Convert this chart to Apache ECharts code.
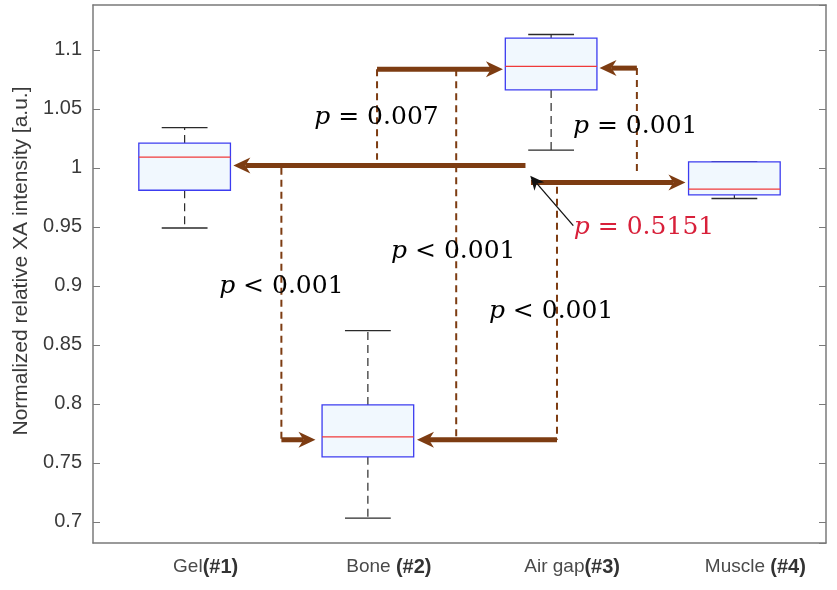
<!DOCTYPE html>
<html>
<head>
<meta charset="utf-8">
<script src="https://cdn.jsdelivr.net/npm/echarts@6/dist/echarts.min.js"></script>
<style>
  html, body { margin: 0; padding: 0; background: #fff; }
  #chart { width: 837px; height: 590px; }
</style>
</head>
<body>
<div id="chart"></div>
<script>
// ---- data ----
const categories = ['Gel(#1)', 'Bone (#2)', 'Air gap(#3)', 'Muscle (#4)'];
const whiskerLow  = [0.949, 0.703, 1.015, 0.974];
const quartile1   = [0.981, 0.755, 1.066, 0.977];
const medians     = [1.009, 0.772, 1.086, 0.982];
const quartile3   = [1.021, 0.799, 1.110, 1.005];
const whiskerHigh = [1.034, 0.862, 1.113, 1.005];

const yMin = 0.682;
const yMax = 1.138;

// comparison arrows: [xStart, yStart, xTip, yTip] in category units (1..4)
const arrowStartX = [2.86, 1.528, 2.05, 3.032, 2.89, 3.468];
const arrowStartY = [1.002, 0.7695, 1.0836, 0.7695, 0.9876, 1.0845];
const arrowTipX   = [1.266, 1.714, 2.737, 2.268, 3.733, 3.264];
const arrowTipY   = [1.002, 0.7695, 1.0836, 0.7695, 0.9876, 1.0845];

// dashed connectors: x, yTop, yBottom
const dashX    = [1.528, 2.05, 2.482, 3.032, 3.468];
const dashTop  = [1.000, 1.0836, 1.0836, 0.984, 1.0845];
const dashBot  = [0.7695, 1.0068, 0.7695, 0.7695, 0.994];

// pointer arrow to the red p-value
const pointerFrom = [3.121, 0.951];
const pointerTo   = [2.886, 0.9932];

// p-value labels
const pTexts  = ['p = 0.007', 'p = 0.001', 'p = 0.5151', 'p < 0.001', 'p < 0.001', 'p < 0.001'];
const pX      = [2.047, 3.459, 3.507, 1.528, 2.466, 3.0];
const pY      = [1.0424, 1.0347, 0.949, 0.8992, 0.9288, 0.878];
const pColors = ['#000000', '#000000', '#d8203a', '#000000', '#000000', '#000000'];

// ---- build ----
const boxData = categories.map((c, i) => [i, whiskerLow[i], quartile1[i], medians[i], quartile3[i], whiskerHigh[i]]);
const arrowData = arrowStartX.map((x, i) => [x, arrowStartY[i], arrowTipX[i], arrowTipY[i]]);
const dashData = dashX.map((x, i) => [x, dashTop[i], x, dashBot[i]]);
const labelData = pTexts.map((t, i) => ({
  value: [pX[i], pY[i]], name: t,
  label: {
    color: pColors[i],
    rich: {
      i: { fontFamily: 'DejaVu Serif', fontStyle: 'italic', fontSize: 25, color: pColors[i] },
      t: { fontFamily: 'DejaVu Serif', fontSize: 25, color: pColors[i] }
    }
  }
}));

const BROWN = '#7d3c12';
const AXIS = '#7a7a7a';

function renderBox(params, api) {
  const x = api.value(0);
  const lo = api.coord([x, api.value(1)]);
  const q1 = api.coord([x, api.value(2)]);
  const md = api.coord([x, api.value(3)]);
  const q3 = api.coord([x, api.value(4)]);
  const hi = api.coord([x, api.value(5)]);
  const band = api.size([1, 0])[0];
  const hw = band * 0.25;
  const cw = band * 0.125;
  const cx = lo[0];
  const wStyle = { stroke: '#2a2a2a', lineWidth: 1.2, lineDash: [8, 5] };
  const cStyle = { stroke: '#2a2a2a', lineWidth: 1.3 };
  return {
    type: 'group',
    children: [
      { type: 'line', shape: { x1: cx, y1: q3[1], x2: cx, y2: hi[1] }, style: wStyle },
      { type: 'line', shape: { x1: cx, y1: q1[1], x2: cx, y2: lo[1] }, style: wStyle },
      { type: 'line', shape: { x1: cx - cw, y1: hi[1], x2: cx + cw, y2: hi[1] }, style: cStyle },
      { type: 'line', shape: { x1: cx - cw, y1: lo[1], x2: cx + cw, y2: lo[1] }, style: cStyle },
      { type: 'rect', shape: { x: cx - hw, y: q3[1], width: 2 * hw, height: q1[1] - q3[1] },
        style: { fill: '#f1f8fe', stroke: '#3c3cf0', lineWidth: 1.3 } },
      { type: 'line', shape: { x1: cx - hw, y1: md[1], x2: cx + hw, y2: md[1] },
        style: { stroke: '#f03a3a', lineWidth: 1.3 } }
    ]
  };
}

function arrowShape(p1, p2, lineWidth, headLen, headHalf, notch, color) {
  const dx = p2[0] - p1[0], dy = p2[1] - p1[1];
  const len = Math.sqrt(dx * dx + dy * dy) || 1;
  const ux = dx / len, uy = dy / len;
  const nx = -uy, ny = ux;
  const bx = p2[0] - ux * headLen, by = p2[1] - uy * headLen;
  const kx = p2[0] - ux * (headLen - notch), ky = p2[1] - uy * (headLen - notch);
  return [
    { type: 'line', shape: { x1: p1[0], y1: p1[1], x2: kx, y2: ky },
      style: { stroke: color, lineWidth: lineWidth } },
    { type: 'polygon', shape: { points: [
        [p2[0], p2[1]],
        [bx + nx * headHalf, by + ny * headHalf],
        [kx, ky],
        [bx - nx * headHalf, by - ny * headHalf]
      ] }, style: { fill: color } }
  ];
}

function renderArrow(params, api) {
  const p1 = api.coord([api.value(0), api.value(1)]);
  const p2 = api.coord([api.value(2), api.value(3)]);
  return { type: 'group', children: arrowShape(p1, p2, 5, 17, 8, 5, BROWN) };
}

function renderDash(params, api) {
  const p1 = api.coord([api.value(0), api.value(1)]);
  const p2 = api.coord([api.value(2), api.value(3)]);
  return { type: 'line', shape: { x1: p1[0], y1: p1[1], x2: p2[0], y2: p2[1] },
    style: { stroke: BROWN, lineWidth: 2, lineDash: [7, 5] } };
}

function renderPointer(params, api) {
  const p1 = api.coord([api.value(0), api.value(1)]);
  const p2 = api.coord([api.value(2), api.value(3)]);
  return { type: 'group', children: arrowShape(p1, p2, 1.3, 14, 6.5, 4, '#111') };
}

const fmtNum = v => String(+v.toFixed(3));

const chart = echarts.init(document.getElementById('chart'), null, { renderer: 'canvas' });
chart.setOption({
  animation: false,
  backgroundColor: '#ffffff',
  grid: { left: 93, right: 11, top: 5, bottom: 47, show: false },
  xAxis: [
    {
      type: 'category', data: categories, position: 'bottom',
      axisLine: { lineStyle: { color: AXIS, width: 1.5 } },
      axisTick: { inside: true, alignWithLabel: true, length: 7, lineStyle: { color: AXIS } },
      axisLabel: {
        margin: 14, padding: [0, 0, 0, 42],
        formatter: v => { const m = v.match(/^(.*?)(\(#\d\))$/); return '{n|' + m[1] + '}{b|' + m[2] + '}'; },
        rich: {
          n: { fontFamily: 'Liberation Sans', fontSize: 19, color: '#4a4a4a' },
          b: { fontFamily: 'Liberation Sans', fontSize: 20, color: '#333', fontWeight: 'bold' }
        }
      },
      splitLine: { show: false }
    },
    {
      type: 'category', data: categories, position: 'top',
      axisLine: { lineStyle: { color: AXIS, width: 1.5 } },
      axisTick: { inside: true, alignWithLabel: true, length: 7, lineStyle: { color: AXIS } },
      axisLabel: { show: false },
      splitLine: { show: false }
    },
    { type: 'value', min: 0.5, max: 4.5, show: false }
  ],
  yAxis: [
    {
      type: 'value', min: yMin, max: yMax, splitNumber: 9, position: 'left',
      name: 'Normalized relative XA intensity [a.u.]',
      nameLocation: 'middle', nameGap: 56,
      nameTextStyle: { fontFamily: 'Liberation Sans', fontSize: 21, color: '#3a3a3a', padding: [0, 0, 0, 26] },
      axisLine: { show: true, lineStyle: { color: AXIS, width: 1.5 } },
      axisTick: { show: true, inside: true, length: 7, lineStyle: { color: AXIS } },
      axisLabel: {
        showMinLabel: false, showMaxLabel: false, margin: 11,
        fontFamily: 'Liberation Sans', fontSize: 20, color: '#3a3a3a',
        formatter: v => (Math.abs(v - yMin) < 1e-6 || Math.abs(v - yMax) < 1e-6) ? '' : fmtNum(v)
      },
      splitLine: { show: false }
    },
    {
      type: 'value', min: yMin, max: yMax, splitNumber: 9, position: 'right',
      axisLine: { show: true, lineStyle: { color: AXIS, width: 1.5 } },
      axisTick: { show: true, inside: true, length: 7, lineStyle: { color: AXIS } },
      axisLabel: { show: false },
      splitLine: { show: false }
    }
  ],
  series: [
    {
      type: 'custom', xAxisIndex: 2, yAxisIndex: 0, silent: true, z: 2,
      renderItem: renderDash, data: dashData, encode: { x: [0, 2], y: [1, 3] }
    },
    {
      type: 'custom', xAxisIndex: 0, yAxisIndex: 0, silent: true, z: 3,
      renderItem: renderBox, data: boxData, encode: { x: 0, y: [1, 2, 3, 4, 5] }
    },
    {
      type: 'custom', xAxisIndex: 2, yAxisIndex: 0, silent: true, z: 4,
      renderItem: renderArrow, data: arrowData, encode: { x: [0, 2], y: [1, 3] }
    },
    {
      type: 'custom', xAxisIndex: 2, yAxisIndex: 0, silent: true, z: 4,
      renderItem: renderPointer, data: [[pointerFrom[0], pointerFrom[1], pointerTo[0], pointerTo[1]]],
      encode: { x: [0, 2], y: [1, 3] }
    },
    {
      type: 'scatter', xAxisIndex: 2, yAxisIndex: 0, silent: true, z: 5,
      symbolSize: 0, data: labelData, itemStyle: { color: '#000', opacity: 1 },
      label: {
        show: true, position: 'inside', color: '#000',
        textBorderWidth: 0, opacity: 1,
        fontFamily: 'DejaVu Serif', fontSize: 25,
        formatter: p => '{i|p}{t|' + p.name.slice(1) + '}'
      }
    }
  ]
});
</script>
</body>
</html>
